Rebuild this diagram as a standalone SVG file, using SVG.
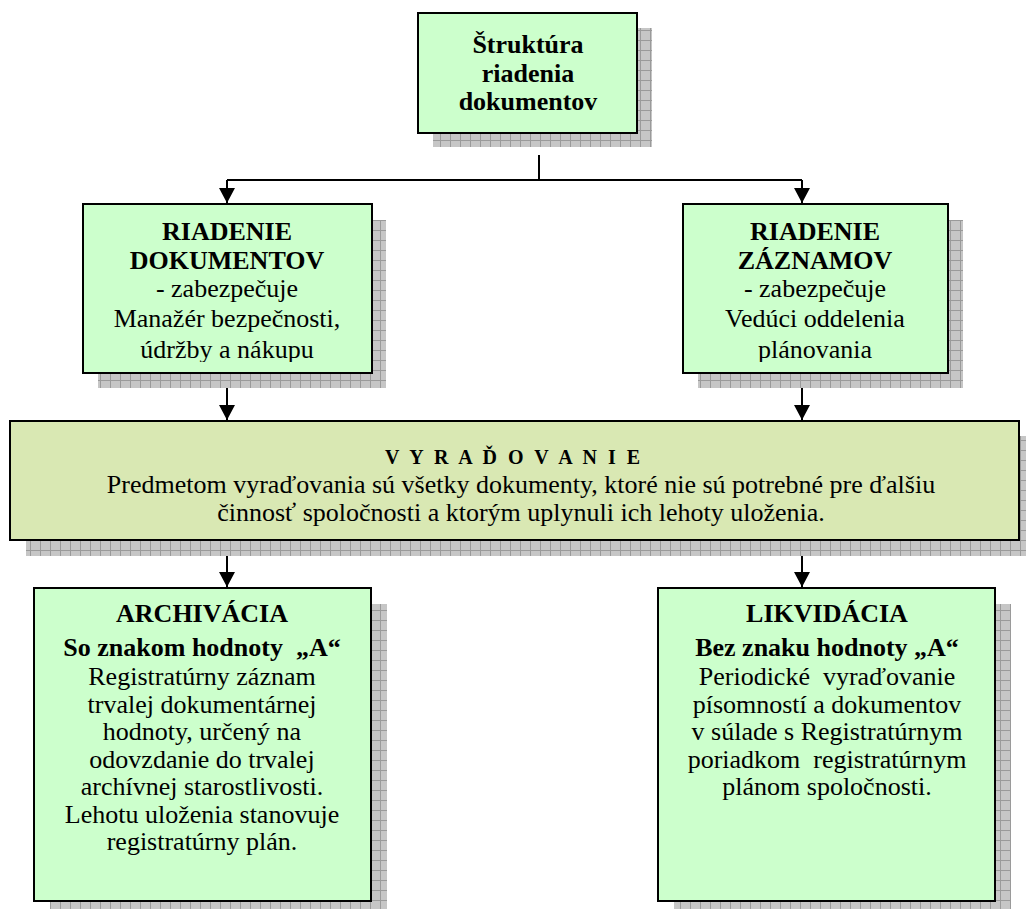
<svg xmlns="http://www.w3.org/2000/svg" width="1026" height="909" viewBox="0 0 1026 909">
<style>
.box{fill:#ccffcc;stroke:#000;stroke-width:2}
.vbox{fill:#d9e8b3;stroke:#000;stroke-width:2}
.sh{fill:url(#grid)}
text{font-family:"Liberation Serif","Times New Roman",serif;fill:#000;text-anchor:middle}
.b{font-weight:bold}
.t{font-size:26px}
.pre{white-space:pre}
.conn{stroke:#000;stroke-width:2;fill:none}
</style>
<defs>
<pattern id="grid" x="0" y="0" width="10" height="10" patternUnits="userSpaceOnUse">
<rect width="10" height="10" fill="#c6c6c6"/>
<path d="M0 0.5H10M0.5 0V10" stroke="#9a9a9a" stroke-width="1"/>
</pattern>
<marker id="arr" markerUnits="userSpaceOnUse" markerWidth="16" markerHeight="16" refX="15" refY="8" orient="auto">
<path d="M0 0L15 8L0 16Z" fill="#000"/>
</marker>
<clipPath id="clipL"><rect x="83" y="204" width="289" height="158"/></clipPath>
<clipPath id="clipR"><rect x="683" y="204" width="265" height="158"/></clipPath>
</defs>

<g id="connectors">
<path class="conn" d="M539 155V180"/>
<path class="conn" d="M227 180H802"/>
<path class="conn" d="M227 180V203" marker-end="url(#arr)"/>
<path class="conn" d="M802 180V203" marker-end="url(#arr)"/>
<path class="conn" d="M227 373V420" marker-end="url(#arr)"/>
<path class="conn" d="M802 373V420" marker-end="url(#arr)"/>
<path class="conn" d="M227 540V587" marker-end="url(#arr)"/>
<path class="conn" d="M802 540V587" marker-end="url(#arr)"/>
</g>

<g id="node-struktura">
<rect class="sh" x="433" y="28" width="219" height="119"/>
<rect class="box" x="418" y="13" width="219" height="120"/>
<text class="t b" x="528" y="53">Štruktúra</text>
<text class="t b" x="528" y="82">riadenia</text>
<text class="t b" x="528" y="110">dokumentov</text>
</g>

<g id="node-riadenie-dokumentov">
<rect class="sh" x="98" y="220" width="288" height="168"/>
<rect class="box" x="83" y="204" width="289" height="169"/>
<g clip-path="url(#clipL)">
<text class="t b" x="227" y="240">RIADENIE</text>
<text class="t b" x="227" y="269">DOKUMENTOV</text>
<text class="t" x="227" y="297">- zabezpečuje</text>
<text class="t" x="227" y="327">Manažér bezpečnosti,</text>
<text class="t" x="227" y="358">údržby a nákupu</text>
</g>
</g>

<g id="node-riadenie-zaznamov">
<rect class="sh" x="698" y="220" width="265" height="168"/>
<rect class="box" x="683" y="204" width="265" height="169"/>
<g clip-path="url(#clipR)">
<text class="t b" x="815" y="240">RIADENIE</text>
<text class="t b" x="815" y="269">ZÁZNAMOV</text>
<text class="t" x="815" y="297">- zabezpečuje</text>
<text class="t" x="815" y="327">Vedúci oddelenia</text>
<text class="t" x="815" y="358">plánovania</text>
</g>
</g>

<g id="node-vyradovanie">
<rect class="sh" x="26" y="436" width="1009" height="120"/>
<rect class="vbox" x="10" y="421" width="1009" height="119"/>
<text class="b" x="514" y="464" font-size="20" letter-spacing="3">V Y R A Ď O V A N I E</text>
<text class="t" x="521" y="493">Predmetom vyraďovania sú všetky dokumenty, ktoré nie sú potrebné pre ďalšiu</text>
<text class="t" x="521" y="521">činnosť spoločnosti a ktorým uplynuli ich lehoty uloženia.</text>
</g>

<g id="node-archivacia">
<rect class="sh" x="50" y="604" width="337" height="320"/>
<rect class="box" x="34" y="588" width="337" height="313"/>
<text class="t b" x="202" y="622">ARCHIVÁCIA</text>
<text class="t b pre" x="202" y="656">So znakom hodnoty  „A“</text>
<text class="t" x="202" y="685">Registratúrny záznam</text>
<text class="t" x="202" y="712.5">trvalej dokumentárnej</text>
<text class="t" x="202" y="740">hodnoty, určený na</text>
<text class="t" x="202" y="767.5">odovzdanie do trvalej</text>
<text class="t" x="202" y="795">archívnej starostlivosti.</text>
<text class="t" x="202" y="822.5">Lehotu uloženia stanovuje</text>
<text class="t" x="202" y="850">registratúrny plán.</text>
</g>

<g id="node-likvidacia">
<rect class="sh" x="674" y="604" width="337" height="320"/>
<rect class="box" x="658" y="588" width="337" height="313"/>
<text class="t b" x="827" y="622">LIKVIDÁCIA</text>
<text class="t b" x="827" y="656">Bez znaku hodnoty „A“</text>
<text class="t pre" x="827" y="685">Periodické  vyraďovanie</text>
<text class="t" x="827" y="712.5">písomností a dokumentov</text>
<text class="t" x="827" y="740">v súlade s Registratúrnym</text>
<text class="t pre" x="827" y="767.5">poriadkom  registratúrnym</text>
<text class="t" x="827" y="795">plánom spoločnosti.</text>
</g>
</svg>
